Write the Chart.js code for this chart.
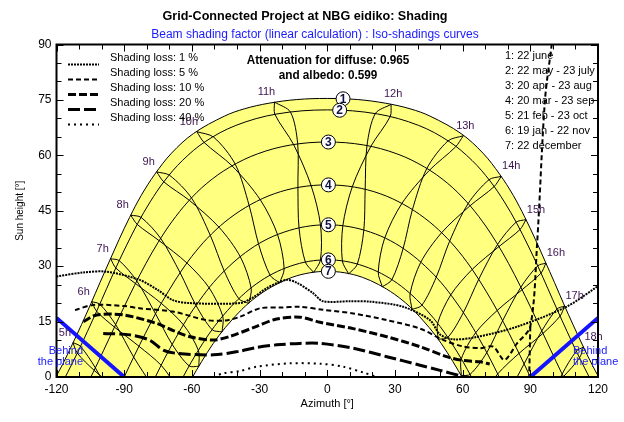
<!DOCTYPE html>
<html>
<head>
<meta charset="utf-8">
<script src="https://cdn.jsdelivr.net/npm/chart.js@4.4.1/dist/chart.umd.min.js"></script>
<style>
  html, body { margin: 0; padding: 0; background: #fff; }
</style>
</head>
<body>
<canvas id="shading" width="624" height="422"></canvas>
<script>
// sun paths, morning half [azimuth, height]; the afternoon half is the mirror image
const path1 = [[-120.3,0],[-117.4,3.3],[-113.1,8.7],[-108.9,14.2],[-104.8,19.8],[-100.7,25.6],[-96.5,31.4],[-92.2,37.3],[-87.6,43.2],[-82.5,49.1],[-76.4,54.9],[-69.0,60.6],[-59.3,65.9],[-45.6,70.6],[-36.7,72.6],[-25.9,74.1],[-13.5,75.1],[0,75.4]];
const path2 = [[-116.1,0],[-115.0,1.3],[-110.6,6.7],[-106.3,12.3],[-102.0,18.1],[-97.8,23.9],[-93.5,29.8],[-88.9,35.7],[-84.0,41.6],[-78.5,47.4],[-72.1,53.1],[-64.2,58.6],[-54.1,63.7],[-40.5,68.1],[-22.3,71.2],[0,72.3]];
const path3 = [[-104.8,0],[-103.7,1.3],[-99.2,7.1],[-94.7,13.0],[-90.1,18.9],[-85.4,24.8],[-80.4,30.7],[-75.0,36.4],[-68.9,42.0],[-61.8,47.4],[-53.4,52.4],[-43.2,56.8],[-30.9,60.4],[-16.2,62.8],[0,63.6]];
const path4 = [[-90,0],[-85.4,5.9],[-80.6,11.8],[-75.7,17.6],[-70.4,23.2],[-64.7,28.7],[-58.4,33.9],[-51.3,38.7],[-43.2,43.0],[-33.9,46.7],[-23.5,49.6],[-12.1,51.4],[0,52.0]];
const path5 = [[-76.2,0],[-72.2,4.9],[-67.3,10.4],[-62.1,15.8],[-56.5,20.8],[-50.4,25.6],[-43.6,29.9],[-36.2,33.7],[-28.0,36.9],[-19.2,39.2],[-9.7,40.7],[0,41.2]];
const path6 = [[-63.9,0],[-60.3,4.0],[-55.3,9.0],[-50.0,13.7],[-44.2,18.0],[-38.0,21.9],[-31.2,25.3],[-24.0,28.0],[-16.3,30.0],[-8.2,31.3],[0,31.7]];
const path7 = [[-59.7,0],[-58.0,1.8],[-53.1,6.7],[-47.9,11.3],[-42.3,15.4],[-36.3,19.2],[-29.8,22.4],[-22.8,25.0],[-15.5,27.0],[-7.8,28.2],[0,28.6]];

// sun position at each legal hour, 5h..18h, for each date (a = first half of year, b = second)
const hours = [5,6,7,8,9,10,11,12,13,14,15,16,17,18];
const hr1  = [[-112.7,9.3],[-104.4,20.4],[-96.0,32.0],[-87.1,43.8],[-75.6,55.5],[-57.8,66.4],[-23.4,74.4],[28.3,73.8],[60.3,65.3],[77.1,54.3],[88.1,42.6],[96.9,30.8],[105.2,19.2],[113.6,8.1]];
const hr2a = [[-109.4,8.3],[-100.8,19.7],[-92.2,31.5],[-82.5,43.2],[-69.9,54.6],[-50.3,64.9],[-16.3,71.7],[27.9,70.5],[56.9,62.3],[73.9,51.5],[85.4,39.9],[94.7,28.1],[103.2,16.5],[111.8,5.2]];
const hr2b = [[-110.8,6.5],[-102.2,17.8],[-93.7,29.5],[-84.2,41.3],[-72.4,52.8],[-54.6,63.5],[-23.2,71.1],[21.3,71.3],[53.5,63.9],[71.7,53.4],[83.7,41.9],[93.3,30.1],[101.8,18.4],[110.4,7.0]];
const hr3a = [[-102.8,2.5],[-93.8,14.2],[-84.4,26.0],[-73.8,37.5],[-60.1,48.4],[-40.7,57.5],[-13.1,63.1],[19.3,62.4],[45.2,55.9],[63.2,46.3],[76.1,35.3],[86.3,23.6],[95.6,11.8],[104.7,0.1]];
const hr3b = [[-103.3,1.8],[-94.3,13.5],[-85.0,25.3],[-74.5,36.9],[-61.1,47.8],[-42.1,57.1],[-14.9,62.9],[17.6,62.6],[44.1,56.4],[62.4,46.9],[75.5,35.9],[85.8,24.3],[95.1,12.5],[104.1,0.8]];
const hr4a = [[-95.0,-6.4],[-85.8,5.4],[-76.1,17.1],[-65.2,28.2],[-51.8,38.3],[-34.6,46.4],[-13.0,51.3],[11.1,51.5],[33.1,47.0],[50.6,39.0],[64.2,29.1],[75.3,18.0],[85.0,6.4],[95.5,-5.4]];
const hr4b = [[-92.7,-3.5],[-83.4,8.3],[-73.5,19.9],[-62.1,30.8],[-47.9,40.5],[-29.6,47.9],[-7.1,51.7],[16.8,50.6],[37.7,45.2],[54.2,36.7],[67.1,26.4],[77.7,15.2],[87.2,3.5],[97.0,-8.3]];
const hr5a = [null,[-77.5,-2.5],[-68.7,8.8],[-58.1,19.3],[-45.6,28.6],[-30.4,35.9],[-12.5,40.3],[6.9,40.9],[25.4,37.5],[41.4,31.0],[54.7,22.2],[65.8,12.0],[75.5,0.8],null];
const hr5b = [null,[-73.5,3.1],[-63.7,14.1],[-52.3,24.1],[-38.5,32.5],[-22.0,38.5],[-3.0,41.2],[16.2,39.7],[33.6,34.7],[48.3,27.0],[60.3,17.4],[70.7,6.6],[80.0,-4.8],null];
const hr6a = [null,null,[-61.2,3.0],[-51.0,12.8],[-39.2,21.2],[-25.3,27.5],[-9.7,31.1],[6.7,31.4],[22.6,28.4],[36.7,22.5],[48.9,14.5],[59.4,4.9],[68.0,-5.7],null];
const hr6b = [null,[-66.0,-3.3],[-57.1,7.2],[-46.3,16.4],[-33.7,24.0],[-19.1,29.3],[-3.0,31.7],[13.3,30.5],[28.6,26.3],[41.9,19.4],[53.4,10.7],[63.3,0.7],null,null];
const hr7  = [null,[-64.0,-7.4],[-56.9,2.9],[-46.6,12.2],[-34.8,19.9],[-21.1,25.5],[-6.0,28.3],[9.5,27.9],[24.4,24.4],[37.6,18.3],[49.1,10.2],[59.4,0.4],[67.0,-9.9],null];

// iso-shading curves [azimuth, height]
const loss1  = [[-120,27.2],[-108,28.3],[-97.8,28.5],[-83.2,26.3],[-75,23.5],[-68.4,20.8],[-60.8,20.0],[-38.7,20.0],[-33,21.5],[-27,24.0],[-22.3,25.4],[-17.8,26.3],[-13.4,25.5],[-6.3,22.7],[-1.9,20.5],[10,20.5],[19,20.4],[33.7,19.0],[45.5,15.4],[50,11.5],[56,10.2],[66,10.8],[84,13.6],[106,19.0],[120,24.6]];
const loss5  = [[-111.8,18.1],[-103.7,19.5],[-90,19.2],[-83.2,18.6],[-68.4,17.7],[-53.4,15.4],[-45,15.3],[-38.7,16.3],[-29.8,18.6],[-20.9,18.8],[-12.1,19.0],[-1.9,18.2],[11.5,17.2],[26.4,15.4],[41.1,13.1],[51.5,10.0],[60,8.3],[67.7,7.8],[73.6,8.2],[78.5,4.6],[84,9.0],[90,13.7],[93,36],[96.5,75],[99.5,90]];
const loss5b = [[90,13.7],[89.5,0]];
const loss10 = [[-108.1,15.0],[-102.2,16.8],[-90.4,16.8],[-75.6,14.5],[-68,12.5],[-60.8,10.9],[-50.5,10.0],[-43.1,11.0],[-31.3,13.7],[-22.4,15.7],[-12.1,16.2],[-3.2,14.8],[11.5,13.1],[26.4,10.9],[41.1,8.2],[52.9,5.5],[60,4.5],[67.7,4.1],[72,3.5]];
const loss20 = [[-99.3,11.8],[-87.4,11.4],[-78.8,10.0],[-72.7,7.3],[-66.7,6.4],[-50.5,6.0],[-38.7,7.0],[-31.3,8.0],[-22.4,8.7],[-12.1,9.1],[-3.2,9.1],[11.5,7.8],[26.4,5.5],[41.1,3.2],[50,1.8],[59,0.3]];
const loss40 = [[-50.5,0],[-46.1,1.0],[-38.7,1.6],[-31.3,2.8],[-16.5,3.7],[-3.2,3.6],[7.1,2.8],[16,1.2],[22,0]];

// "behind the plane" limits
const behindLeft = [[-120,16],[-90,0]];
const behindRight = [[90,0],[120,16]];

// date labels on the paths
const dateNames = ['1','2','3','4','5','6','7'];
const dateLabelPos = [[7,75.3],[5.5,72.2],[0.5,63.6],[0.5,52.0],[0.5,41.2],[0.5,31.7],[0.5,28.6]];
const dateLegend = ['1: 22 june','2: 22 may - 23 july','3: 20 apr - 23 aug','4: 20 mar - 23 sep','5: 21 feb - 23 oct','6: 19 jan - 22 nov','7: 22 december'];

const lossNames = ['Shading loss: 1 %','Shading loss: 5 %','Shading loss: 10 %','Shading loss: 20 %','Shading loss: 40 %'];
const lossDash = [[2,1],[5,3],[8,3],[12,4],[2,4]];
const lossWidth = [2,2,3,3,2];

const xy = p => ({x: p[0], y: p[1]});

function fullPath(half) {
    var right = half.slice(0, -1).reverse().map(p => [-p[0], p[1]]);
    return half.concat(right).map(xy);
}

function hourLine(branch, i) {
    var pts = branch.map(d => d[i]).filter(p => p);
    // keep a single point under the horizon at each end
    while (pts.length > 1 && pts[0][1] < 0 && pts[1][1] < 0) pts.shift();
    while (pts.length > 1 && pts[pts.length - 1][1] < 0 && pts[pts.length - 2][1] < 0) pts.pop();
    return pts.map(xy);
}

var datasets = [];

[path1, path2, path3, path4, path5, path6, path7].forEach(function (p, i) {
    datasets.push({
        data: fullPath(p),
        showLine: true,
        pointRadius: 0,
        borderColor: '#000',
        borderWidth: 1,
        tension: 0.35,
        fill: (i === 0 || i === 6) ? 'origin' : false,
        backgroundColor: i === 0 ? '#ffff80' : '#ffffff',
        order: i === 0 ? 9 : (i === 6 ? 8 : 5)
    });
});

var branchA = [hr7, hr6a, hr5a, hr4a, hr3a, hr2a, hr1];
var branchB = [hr1, hr2b, hr3b, hr4b, hr5b, hr6b, hr7];
hours.forEach(function (h, i) {
    [branchA, branchB].forEach(function (b) {
        datasets.push({
            data: hourLine(b, i),
            showLine: true,
            pointRadius: 0,
            borderColor: '#000',
            borderWidth: 1,
            tension: 0.3,
            order: 4
        });
    });
});

[loss1, loss5, loss10, loss20, loss40].forEach(function (c, i) {
    datasets.push({
        data: c.map(xy),
        showLine: true,
        pointRadius: 0,
        borderColor: '#000',
        borderWidth: lossWidth[i],
        borderDash: lossDash[i],
        tension: 0.3,
        order: 2
    });
});
datasets.push({
    data: loss5b.map(xy), showLine: true, pointRadius: 0,
    borderColor: '#000', borderWidth: 2, borderDash: lossDash[1], order: 2
});

[behindLeft, behindRight].forEach(function (l) {
    datasets.push({
        data: l.map(xy), showLine: true, pointRadius: 0,
        borderColor: '#1414ff', borderWidth: 4, order: 1
    });
});

datasets.push({
    data: dateLabelPos.map(xy),
    pointRadius: 7,
    pointBackgroundColor: '#ffffff',
    pointBorderColor: '#000',
    pointBorderWidth: 1,
    order: 0
});
var circleIndex = datasets.length - 1;

function text(ctx, s, x, y, font, color, align, sx) {
    ctx.save();
    ctx.font = font;
    ctx.fillStyle = color;
    ctx.textAlign = align || 'left';
    ctx.textBaseline = 'middle';
    ctx.translate(x, y);
    ctx.scale(sx || 1, 1);
    ctx.fillText(s, 0, 0);
    ctx.restore();
}

const decor = {
    id: 'decor',
    afterDatasetsDraw: function (chart) {
        var ctx = chart.ctx, a = chart.chartArea, x = chart.scales.x, y = chart.scales.y;
        // numbers inside the date circles
        var meta = chart.getDatasetMeta(circleIndex);
        meta.data.forEach(function (pt, i) {
            text(ctx, dateNames[i], pt.x, pt.y + 0.5, 'bold 12px "Liberation Sans", Arial, sans-serif', '#101040', 'center');
        });
        // hour labels next to the 22 june points
        hours.forEach(function (h, i) {
            var px = x.getPixelForValue(hr1[i][0]);
            var py = y.getPixelForValue(hr1[i][1]);
            var dx = h < 12 ? -8 : (h < 14 ? 2 : 10);
            text(ctx, h + 'h', px + dx, py - 10, '11px "Liberation Sans", Arial, sans-serif', '#3c1450', 'center');
        });
        // frame and inner ticks
        ctx.save();
        ctx.strokeStyle = '#000';
        ctx.lineWidth = 1;
        ctx.beginPath();
        for (var v = -120; v <= 120; v += 10) {
            var px = Math.round(x.getPixelForValue(v)) + 0.5;
            var len = v % 30 === 0 ? 7 : 5;
            ctx.moveTo(px, a.bottom); ctx.lineTo(px, a.bottom - len);
            ctx.moveTo(px, a.top); ctx.lineTo(px, a.top + len);
        }
        for (var w = 0; w <= 90; w += 5) {
            var py = Math.round(y.getPixelForValue(w)) + 0.5;
            var len2 = w % 15 === 0 ? 7 : 5;
            ctx.moveTo(a.left, py); ctx.lineTo(a.left + len2, py);
            ctx.moveTo(a.right, py); ctx.lineTo(a.right - len2, py);
        }
        ctx.stroke();
        ctx.lineWidth = 2;
        ctx.strokeRect(a.left, a.top, a.right - a.left, a.bottom - a.top);
        ctx.restore();
    },
    afterDraw: function (chart) {
        var ctx = chart.ctx, a = chart.chartArea;
        text(ctx, 'Grid-Connected Project at NBG eidiko: Shading', 305, 16, 'bold 13px "Liberation Sans", Arial, sans-serif', '#000', 'center', 0.97);
        text(ctx, 'Beam shading factor (linear calculation) : Iso-shadings curves', 315, 35, '12px "Liberation Sans", Arial, sans-serif', '#1a1aff', 'center');
        text(ctx, 'Attenuation for diffuse: 0.965', 328, 61, 'bold 12px "Liberation Sans", Arial, sans-serif', '#000', 'center', 0.98);
        text(ctx, 'and albedo: 0.599', 328, 76, 'bold 12px "Liberation Sans", Arial, sans-serif', '#000', 'center', 0.98);
        text(ctx, 'Azimuth [°]', (a.left + a.right) / 2, 404, '11px "Liberation Sans", Arial, sans-serif', '#000', 'center');
        ctx.save();
        ctx.translate(20, (a.top + a.bottom) / 2);
        ctx.rotate(-Math.PI / 2);
        text(ctx, 'Sun height [°]', 0, 0, '10px "Liberation Sans", Arial, sans-serif', '#000', 'center');
        ctx.restore();

        // shading loss legend
        lossNames.forEach(function (s, i) {
            var yy = 57.5 + i * 15;
            ctx.save();
            ctx.strokeStyle = '#000';
            ctx.lineWidth = lossWidth[i];
            ctx.setLineDash(lossDash[i]);
            ctx.beginPath();
            ctx.moveTo(68, yy + 7);
            ctx.lineTo(99, yy + 7);
            ctx.stroke();
            ctx.restore();
            text(ctx, s, 110, yy, '11px "Liberation Sans", Arial, sans-serif', '#000', 'left');
        });
        // date legend
        dateLegend.forEach(function (s, i) {
            text(ctx, s, 505, 56 + i * 15, '11px "Liberation Sans", Arial, sans-serif', '#000', 'left');
        });
        // behind the plane
        var f = '11px "Liberation Sans", Arial, sans-serif';
        text(ctx, 'Behind', 83, 351, f, '#2020ff', 'right');
        text(ctx, 'the plane', 83, 362, f, '#2020ff', 'right');
        text(ctx, 'Behind', 573, 351, f, '#2020ff', 'left');
        text(ctx, 'the plane', 573, 362, f, '#2020ff', 'left');
    }
};

new Chart(document.getElementById('shading').getContext('2d'), {
    type: 'scatter',
    data: { datasets: datasets },
    options: {
        responsive: false,
        animation: false,
        devicePixelRatio: 1,
        events: [],
        layout: { padding: { top: 44.5, right: 26, left: 0, bottom: 0 } },
        plugins: {
            legend: { display: false },
            tooltip: { enabled: false }
        },
        scales: {
            x: {
                type: 'linear',
                min: -120,
                max: 120,
                grid: { display: false, drawTicks: false },
                border: { display: false },
                ticks: {
                    stepSize: 30,
                    padding: 5,
                    color: '#000',
                    font: { family: '"Liberation Sans", Arial, sans-serif', size: 12 }
                },
                afterFit: function (s) { s.height = 45; }
            },
            y: {
                min: 0,
                max: 90,
                grid: { display: false, drawTicks: false },
                border: { display: false },
                ticks: {
                    stepSize: 15,
                    padding: 5,
                    color: '#000',
                    font: { family: '"Liberation Sans", Arial, sans-serif', size: 12 }
                },
                afterFit: function (s) { s.width = 56.5; }
            }
        }
    },
    plugins: [decor]
});
</script>
</body>
</html>
